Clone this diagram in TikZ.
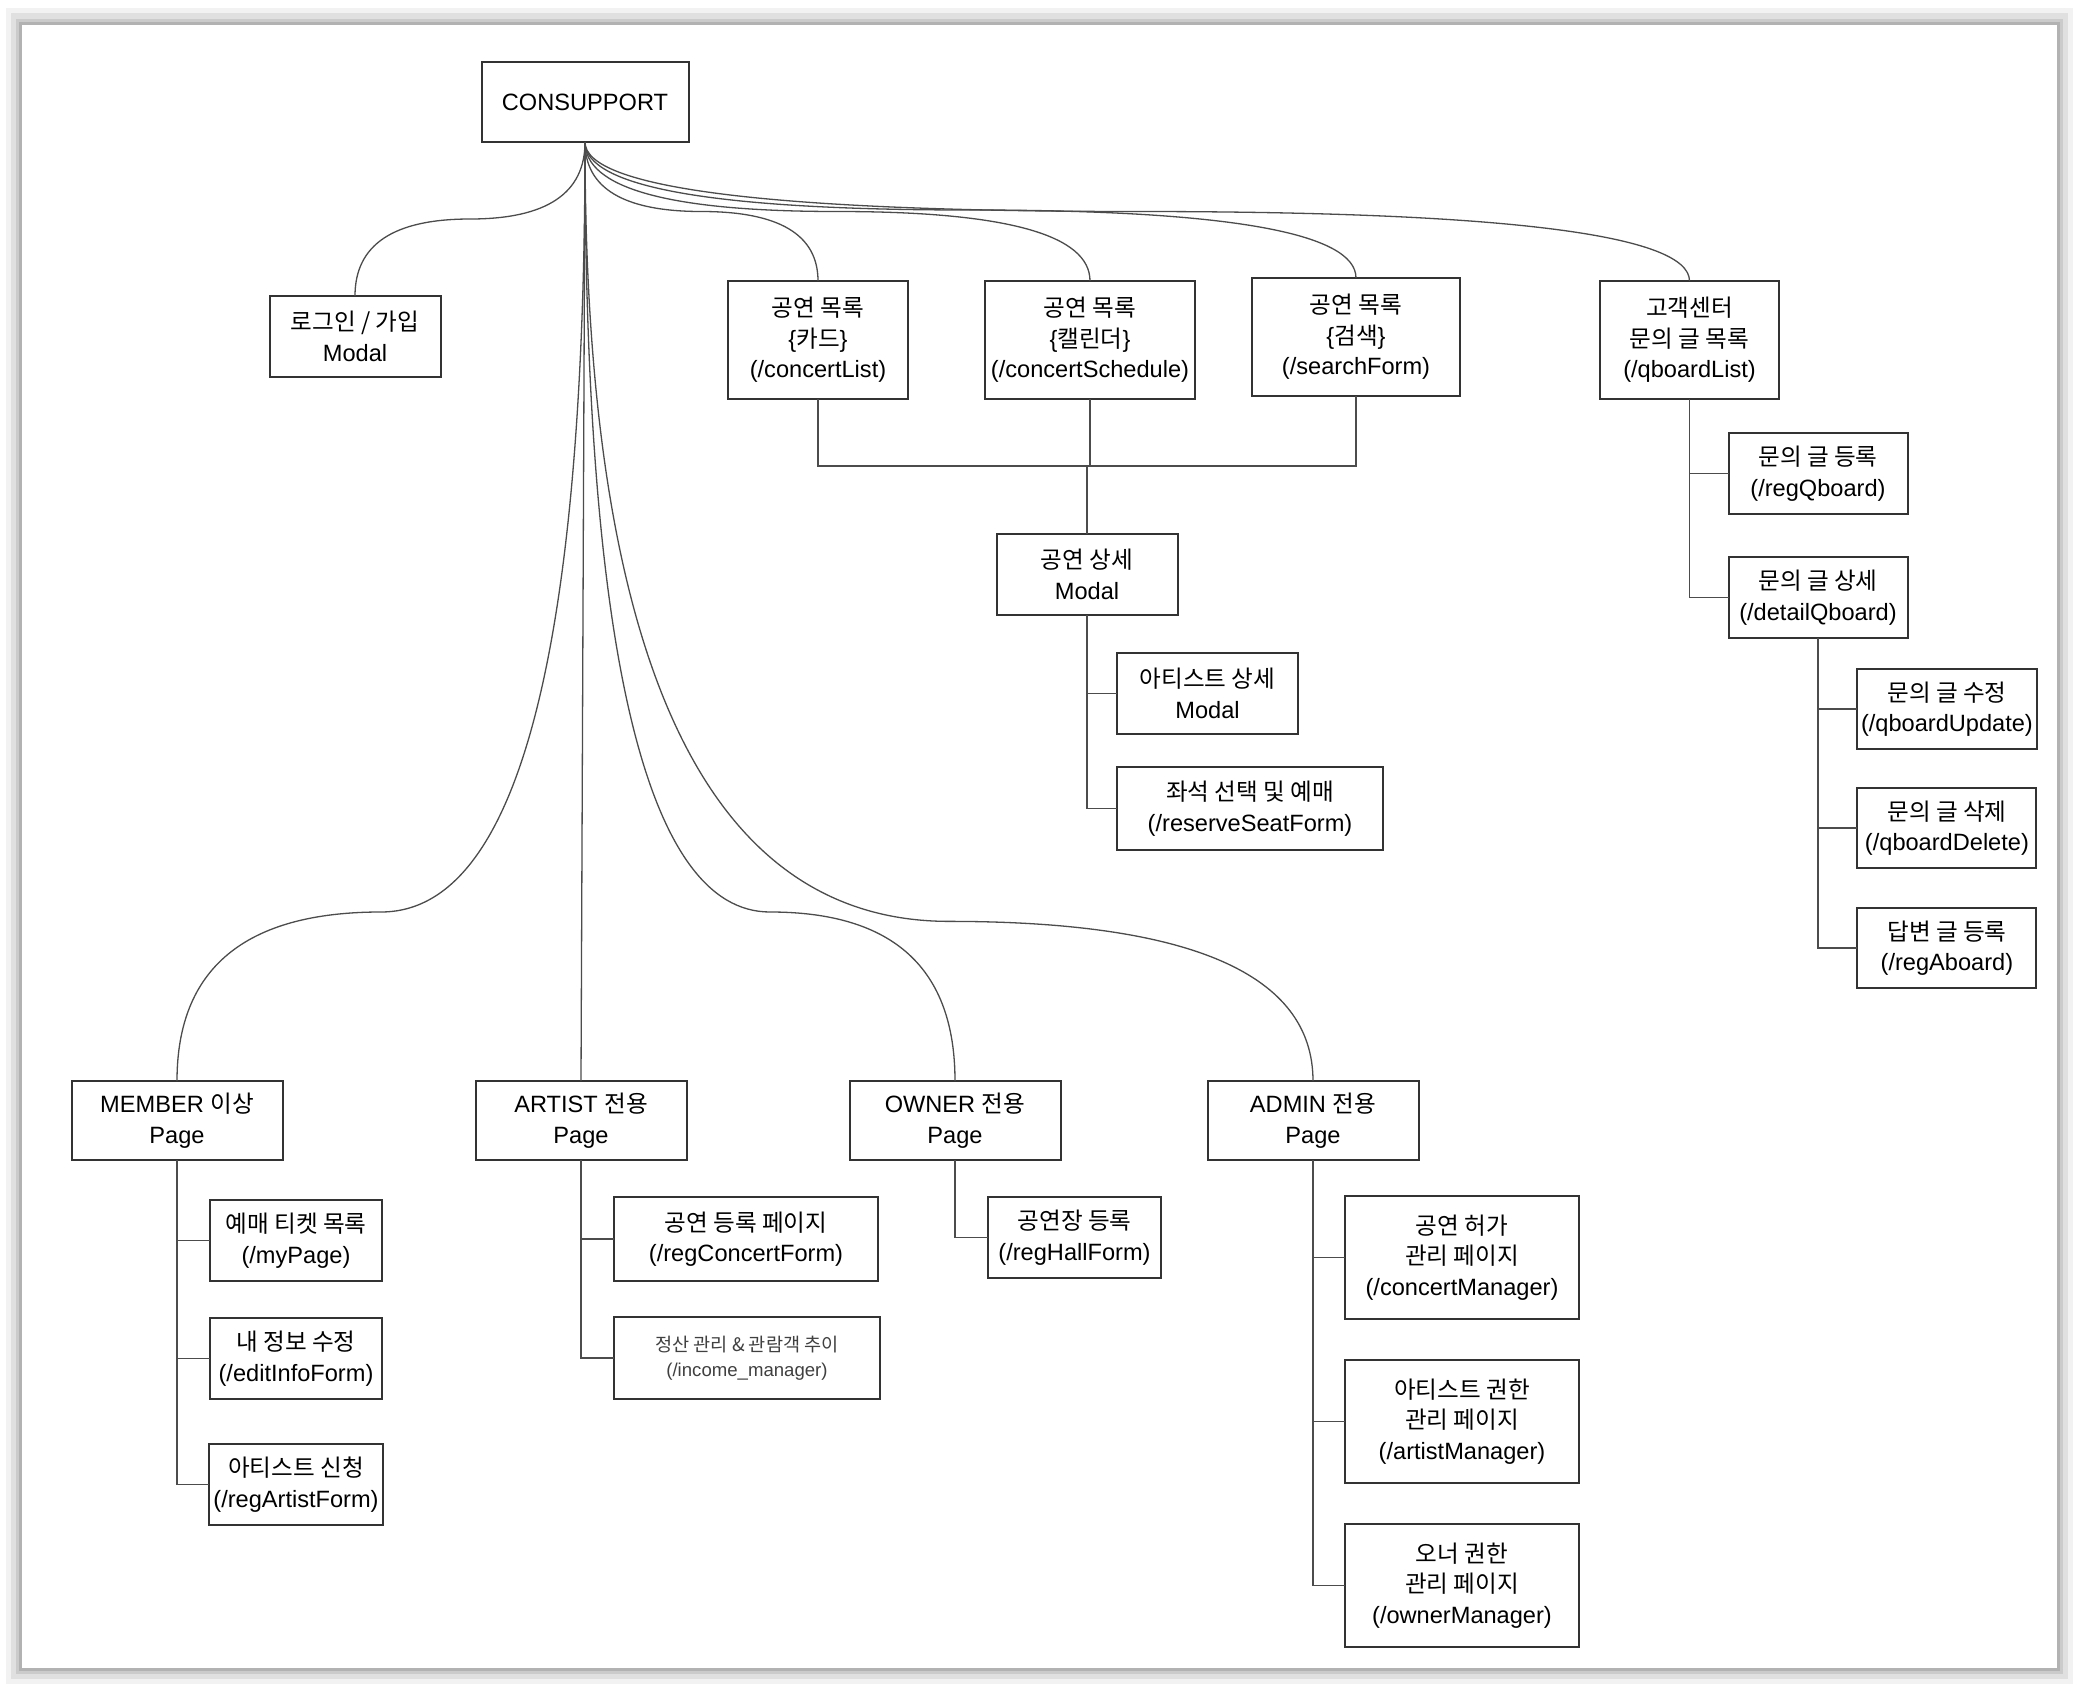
\documentclass[tikz,border=0pt]{standalone}
\usepackage{fontspec}
\setmainfont{Liberation Sans}
\newfontfamily\krfont{Noto Sans CJK KR}
\usetikzlibrary{positioning,calc}

\tikzset{
  box/.style={draw=black!80, line width=1pt, fill=white, align=center, inner sep=2pt, outer sep=0pt,
    minimum height=40.5pt, font=\fontsize{11.8}{15.25}\selectfont},
  tall/.style={minimum height=59pt},
  link/.style={draw=black!70, line width=0.65pt},
  fan/.style={to path={let \p1=(\tikztostart), \p2=(\tikztotarget),
    \n1={\y1+#1*(\y2-\y1)}, \n2={(\x1+\x2)/2} in
    .. controls (\x1,{(\y1+2*\n1)/3}) and ({(2*\x1+\n2)/3},\n1) .. (\n2,\n1)
    .. controls ({(2*\x2+\n2)/3},\n1) and (\x2,{(\y2+2*\n1)/3}) .. (\tikztotarget)}},
  fan/.default=0.5
}

\begin{document}
\begin{tikzpicture}[x=0.5pt, y=-0.5pt]

  % Page
\useasboundingbox (0,0) rectangle (2079,1693);
\fill[white] (0,0) rectangle (2079,1693);
\fill[black, opacity=0.05] (6,8) rectangle (2073,1684);
\fill[black, opacity=0.07] (11,13) rectangle (2068,1679);
\fill[black, opacity=0.09] (16,19) rectangle (2063,1674);
\fill[black, opacity=0.12] (19,22) rectangle (2060,1671);
\fill[white] (22,25) rectangle (2057,1668);

  % Define nodes
\node[box, minimum width=103.5pt, minimum height=40pt] (root) at (585,102) {CONSUPPORT};
\node[box, minimum width=85.5pt, below=77pt of root, xshift=-115pt] (login) {{\krfont 로그인 / 가입}\\Modal};
\node[box, tall, minimum width=90pt, below=69.5pt of root, xshift=116.5pt] (clist) {{\krfont 공연 목록}\\\{{\krfont 카드}\}\\(/concertList)};
\node[box, tall, minimum width=105pt, right=38.5pt of clist] (csched) {{\krfont 공연 목록}\\\{{\krfont 캘린더}\}\\(/concertSchedule)};
\node[box, tall, minimum width=104pt, right=28.5pt of csched, yshift=1.5pt] (search) {{\krfont 공연 목록}\\\{{\krfont 검색}\}\\(/searchForm)};
\node[box, tall, minimum width=89.5pt, right=70pt of search, yshift=-1.5pt] (qlist) {{\krfont 고객센터}\\{\krfont 문의 글 목록}\\(/qboardList)};

\node[box, minimum width=89.5pt, below=17pt of qlist.south, anchor=north west, xshift=19.5pt] (regq) {{\krfont 문의 글 등록}\\(/regQboard)};
\node[box, minimum width=89.5pt, below=21.5pt of regq] (detq) {{\krfont 문의 글 상세}\\(/detailQboard)};
\node[box, minimum width=89.5pt, minimum height=40pt, below=15.5pt of detq.south, anchor=north west, xshift=19.5pt] (updq) {{\krfont 문의 글 수정}\\(/qboardUpdate)};
\node[box, minimum width=89.5pt, minimum height=40pt, below=19.5pt of updq] (delq) {{\krfont 문의 글 삭제}\\(/qboardDelete)};
\node[box, minimum width=89.5pt, minimum height=40pt, below=20pt of delq] (rega) {{\krfont 답변 글 등록}\\(/regAboard)};

\node[box, minimum width=90.5pt, below=67.5pt of csched, xshift=-1.5pt] (detail) {{\krfont 공연 상세}\\Modal};
\node[box, minimum width=90.5pt, below=19pt of detail.south, anchor=north west, xshift=15pt] (artd) {{\krfont 아티스트 상세}\\Modal};
\node[box, minimum width=133pt, minimum height=41.5pt, below=16.5pt of artd.south west, anchor=north west] (reserve) {{\krfont 좌석 선택 및 예매}\\(/reserveSeatForm)};

\node[box, minimum width=105.5pt, minimum height=39.5pt, below=469.5pt of root, xshift=-204pt] (member) {MEMBER {\krfont 이상}\\Page};
\node[box, minimum width=105.5pt, minimum height=39.5pt, right=96.5pt of member] (artist) {ARTIST {\krfont 전용}\\Page};
\node[box, minimum width=105.5pt, minimum height=39.5pt, right=81.5pt of artist] (owner) {OWNER {\krfont 전용}\\Page};
\node[box, minimum width=105.5pt, minimum height=39.5pt, right=73.5pt of owner] (admin) {ADMIN {\krfont 전용}\\Page};

\node[box, minimum width=86pt, below=20pt of member.south, anchor=north west, xshift=16.5pt] (mypage) {{\krfont 예매 티켓 목록}\\(/myPage)};
\node[box, minimum width=86pt, below=18.5pt of mypage] (editinfo) {{\krfont 내 정보 수정}\\(/editInfoForm)};
\node[box, minimum width=86pt, below=22.5pt of editinfo] (regartist) {{\krfont 아티스트 신청}\\(/regArtistForm)};

\node[box, minimum width=132pt, minimum height=42pt, below=18.5pt of artist.south, anchor=north west, xshift=16.5pt] (regconcert) {{\krfont 공연 등록 페이지}\\(/regConcertForm)};
\node[box, minimum width=133pt, minimum height=41pt, below=18pt of regconcert.south west, anchor=north west,
  font=\fontsize{9.3}{12.5}\selectfont, text=black!75] (income) {{\krfont 정산 관리 \& 관람객 추이}\\(/income\_manager)};

\node[box, minimum width=86.5pt, below=18.5pt of owner.south, anchor=north west, xshift=16.5pt] (reghall) {{\krfont 공연장 등록}\\(/regHallForm)};

\node[box, minimum width=117pt, minimum height=61.5pt, below=18pt of admin.south, anchor=north west, xshift=16pt] (concertmgr) {{\krfont 공연 허가}\\{\krfont 관리 페이지}\\(/concertManager)};
\node[box, minimum width=117pt, minimum height=61.5pt, below=20.5pt of concertmgr] (artistmgr) {{\krfont 아티스트 권한}\\{\krfont 관리 페이지}\\(/artistManager)};
\node[box, minimum width=117pt, minimum height=61.5pt, below=20.5pt of artistmgr] (ownermgr) {{\krfont 오너 권한}\\{\krfont 관리 페이지}\\(/ownerManager)};

  % Connect the nodes
\draw[link] (root.south) to[fan] (login.north);
\draw[link] (root.south) to[fan] (clist.north);
\draw[link] (root.south) to[fan] (csched.north);
\draw[link] (root.south) to[fan] (search.north);
\draw[link] (root.south) to[fan] (qlist.north);
\draw[link] (root.south) to[fan=0.82] (member.north);
\draw[link] (root.south) -- (artist.north);
\draw[link] (root.south) to[fan=0.82] (owner.north);
\draw[link] (root.south) to[fan=0.83] (admin.north);

\draw[link] (clist.south) |- ([yshift=34pt]detail.north) -- (detail.north);
\draw[link] (csched.south) |- ([yshift=34pt]detail.north) -- (detail.north);
\draw[link] (search.south) |- ([yshift=34pt]detail.north) -- (detail.north);
\draw[link] (detail.south) |- (artd.west);
\draw[link] (detail.south) |- (reserve.west);

\draw[link] (qlist.south) |- (regq.west);
\draw[link] (qlist.south) |- (detq.west);
\draw[link] (detq.south) |- (updq.west);
\draw[link] (detq.south) |- (delq.west);
\draw[link] (detq.south) |- (rega.west);

\draw[link] (member.south) |- (mypage.west);
\draw[link] (member.south) |- (editinfo.west);
\draw[link] (member.south) |- (regartist.west);
\draw[link] (artist.south) |- (regconcert.west);
\draw[link] (artist.south) |- (income.west);
\draw[link] (owner.south) |- (reghall.west);
\draw[link] (admin.south) |- (concertmgr.west);
\draw[link] (admin.south) |- (artistmgr.west);
\draw[link] (admin.south) |- (ownermgr.west);

\end{tikzpicture}
\end{document}
